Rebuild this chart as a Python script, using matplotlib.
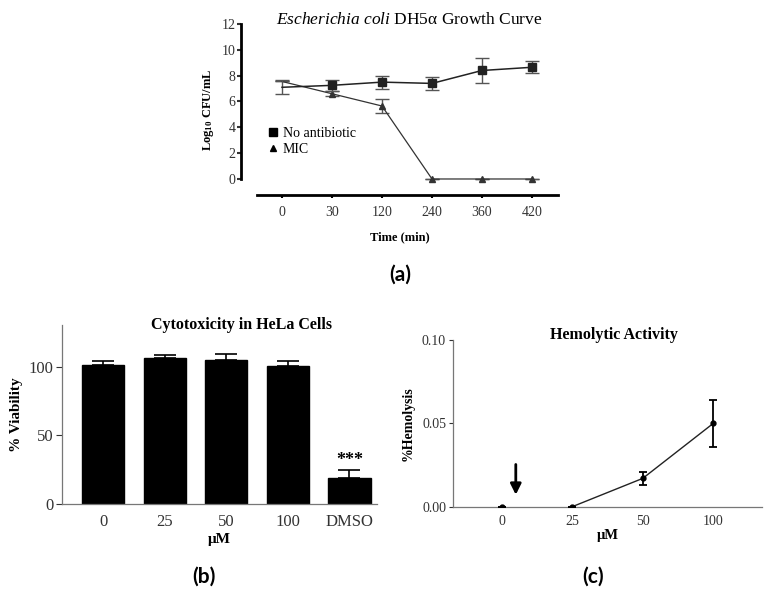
import matplotlib
matplotlib.use("Agg")
import matplotlib.pyplot as plt
from matplotlib.lines import Line2D
import numpy as np

# (a) growth curve
time_labels = ["0", "30", "120", "240", "360", "420"]
no_abx_mean = [7.1, 7.25, 7.5, 7.4, 8.4, 8.65]
no_abx_err = [0.55, 0.4, 0.5, 0.5, 1.0, 0.45]
mic_mean = [7.55, 6.6, 5.65, 0.0, 0.0, 0.0]
mic_err = [0.0, 0.2, 0.55, 0.0, 0.0, 0.0]

# (b) cytotoxicity
cyto_labels = ["0", "25", "50", "100", "DMSO"]
cyto_mean = [101.7, 106.6, 104.9, 100.5, 19.2]
cyto_err = [2.7, 2.4, 4.8, 4.1, 5.6]

# (c) hemolysis
hemo_labels = ["0", "25", "50", "100"]
hemo_mean = [0.0, 0.0, 0.017, 0.050]
hemo_err = [0.0, 0.0, 0.0037, 0.014]

SERIF = "Liberation Serif"
LETTER_FONT = "Lato"
plt.rcParams.update({
    "font.family": SERIF,
    "font.size": 9,
    "mathtext.fontset": "custom",
    "mathtext.rm": SERIF,
    "mathtext.it": SERIF + ":italic",
    "mathtext.bf": SERIF + ":bold",
})

fig = plt.figure(figsize=(7.7, 6.04), dpi=100)


def px_axes(left, top, right, bottom):
    W, H = 770, 604
    return fig.add_axes([left / W, 1 - bottom / H, (right - left) / W, (bottom - top) / H])


def panel_letter(xp, yp, text):
    fig.text(xp / 770, 1 - yp / 604, text, fontsize=15, fontweight="bold",
             fontfamily=LETTER_FONT, ha="center", va="center")


def panel_title(axes, xf, yf, text, **kw):
    axes.text(xf, yf, text, transform=axes.transAxes, ha="center", va="center", **kw)


# ---------- panel (a) ----------
ax = px_axes(241, 24, 558, 195)
x = np.arange(len(time_labels))
ax.errorbar(x, no_abx_mean, yerr=no_abx_err, color="#222222", lw=1.1, marker="s", ms=6,
            markevery=slice(1, None), ecolor="#555555", elinewidth=1, capsize=5, capthick=1,
            zorder=3)
ax.errorbar(x, mic_mean, yerr=mic_err, color="#333333", lw=0.9, marker="^", ms=5,
            markevery=slice(1, None), ecolor="#555555", elinewidth=1, capsize=5, capthick=1,
            zorder=2)
ax.set_xlim(-0.82, 5.52)
ax.set_ylim(-1.24, 12)
ax.set_xticks(x)
ax.set_xticklabels(time_labels, fontsize=10, color="#333333")
ax.set_yticks(np.arange(0, 13, 2))
ax.tick_params(axis="y", labelsize=10, length=3, width=1.5, pad=1, colors="#333333")
ax.tick_params(axis="x", length=2, width=1.5, pad=6)
for s in ("top", "right"):
    ax.spines[s].set_visible(False)
ax.spines["left"].set_bounds(0, 12)
ax.spines["left"].set_linewidth(2)
ax.spines["bottom"].set_bounds(-0.5, 5.52)
ax.spines["bottom"].set_linewidth(2)
panel_title(ax, 0.53, 1.025, r"$\it{Escherichia\ coli}$ DH5α Growth Curve", fontsize=12.5)
ax.set_ylabel(r"Log$_{\mathbf{10}}$ CFU/mL", fontsize=9, fontweight="bold", labelpad=4)
ax.set_xlabel("Time (min)", fontsize=9, fontweight="bold", labelpad=9)
handles = [Line2D([], [], ls="none", marker="s", ms=6, color="black"),
           Line2D([], [], ls="none", marker="^", ms=5, color="black")]
ax.legend(handles, ["No antibiotic", "MIC"], loc="upper left", bbox_to_anchor=(0.07, 0.43),
          frameon=False, fontsize=10, handlelength=0.6, handletextpad=0.4,
          labelspacing=0.2, borderaxespad=0)
panel_letter(400, 275, "(a)")

# ---------- panel (b) ----------
bx = px_axes(62, 325, 377, 504)
xb = np.arange(len(cyto_labels))
bx.bar(xb, cyto_mean, width=0.69, color="black", edgecolor="black")
bx.errorbar(xb, cyto_mean, yerr=[np.zeros(len(cyto_err)), cyto_err], fmt="none",
            ecolor="black", elinewidth=1.2, capsize=8, capthick=1.2)
bx.text(xb[-1], cyto_mean[-1] + cyto_err[-1] + 0.5, "***", ha="center", va="bottom",
        fontsize=13, fontweight="bold")
bx.set_xlim(-0.67, 4.45)
bx.set_ylim(0, 130.6)
bx.set_xticks(xb)
bx.set_xticklabels(cyto_labels)
bx.set_yticks([0, 50, 100])
bx.tick_params(labelsize=12, colors="#333333", length=4, width=0.8, pad=2)
bx.tick_params(axis="x", length=0, pad=7)
for s in ("top", "right"):
    bx.spines[s].set_visible(False)
for s in ("left", "bottom"):
    bx.spines[s].set_color("#777777")
    bx.spines[s].set_linewidth(0.9)
bx.set_ylabel("% Viability", fontsize=11, fontweight="bold", labelpad=4)
bx.set_xlabel("μM", fontsize=11, fontweight="bold", labelpad=2)
panel_title(bx, 0.57, 1.0, "Cytotoxicity in HeLa Cells", fontsize=11.5, fontweight="bold")
panel_letter(204, 577, "(b)")

# ---------- panel (c) ----------
cx = px_axes(453, 340, 762, 506.7)
xc = np.arange(len(hemo_labels))
cx.plot(xc[1:], hemo_mean[1:], color="#222222", lw=1)
cx.errorbar(xc, hemo_mean, yerr=hemo_err, fmt="o", color="black", ms=3.5,
            ecolor="black", elinewidth=1.3, capsize=3, capthick=1.3, zorder=3)
cx.annotate("", xy=(0.2, 0.0055), xytext=(0.2, 0.027),
            arrowprops=dict(arrowstyle="-|>", color="black", lw=2, mutation_scale=16))
cx.set_xlim(-0.69, 3.69)
cx.set_ylim(0, 0.10)
cx.set_xticks(xc)
cx.set_xticklabels(hemo_labels)
cx.set_yticks([0.0, 0.05, 0.10])
cx.set_yticklabels(["0.00", "0.05", "0.10"])
cx.tick_params(labelsize=10, colors="#333333", length=3, width=0.8, pad=2)
cx.tick_params(axis="x", length=0, pad=6)
for s in ("top", "right"):
    cx.spines[s].set_visible(False)
for s in ("left", "bottom"):
    cx.spines[s].set_color("#777777")
    cx.spines[s].set_linewidth(0.9)
cx.set_ylabel("%Hemolysis", fontsize=10, fontweight="bold", labelpad=5)
cx.set_xlabel("μM", fontsize=10.5, fontweight="bold", labelpad=1)
panel_title(cx, 0.52, 1.03, "Hemolytic Activity", fontsize=11.5, fontweight="bold")
panel_letter(593, 577, "(c)")

fig.savefig("out.png", dpi=100)
